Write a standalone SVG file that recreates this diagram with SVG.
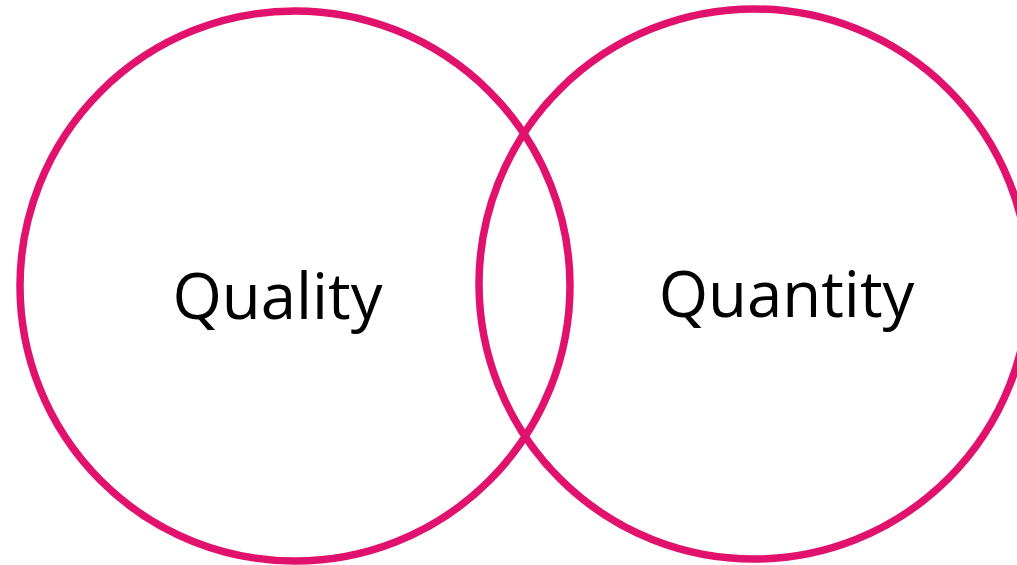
<svg xmlns="http://www.w3.org/2000/svg" width="1017" height="565" viewBox="0 0 1017 565">
<style>
.ring{fill:none;stroke:#E1126E;stroke-width:7.5}
.lbl{font-family:"Open Sans","Noto Sans",sans-serif;font-size:63.5px;fill:#000;text-anchor:middle}
</style>
<rect width="1017" height="565" fill="#fff"/>
<g id="quality">
<circle class="ring" cx="295" cy="286" r="275"/>
<text class="lbl" x="277.5" y="318.5">Quality</text>
</g>
<g id="quantity">
<circle class="ring" cx="754" cy="284" r="275"/>
<text class="lbl" x="786.5" y="316.5">Quantity</text>
</g>
<g id="connectors"></g>
</svg>
